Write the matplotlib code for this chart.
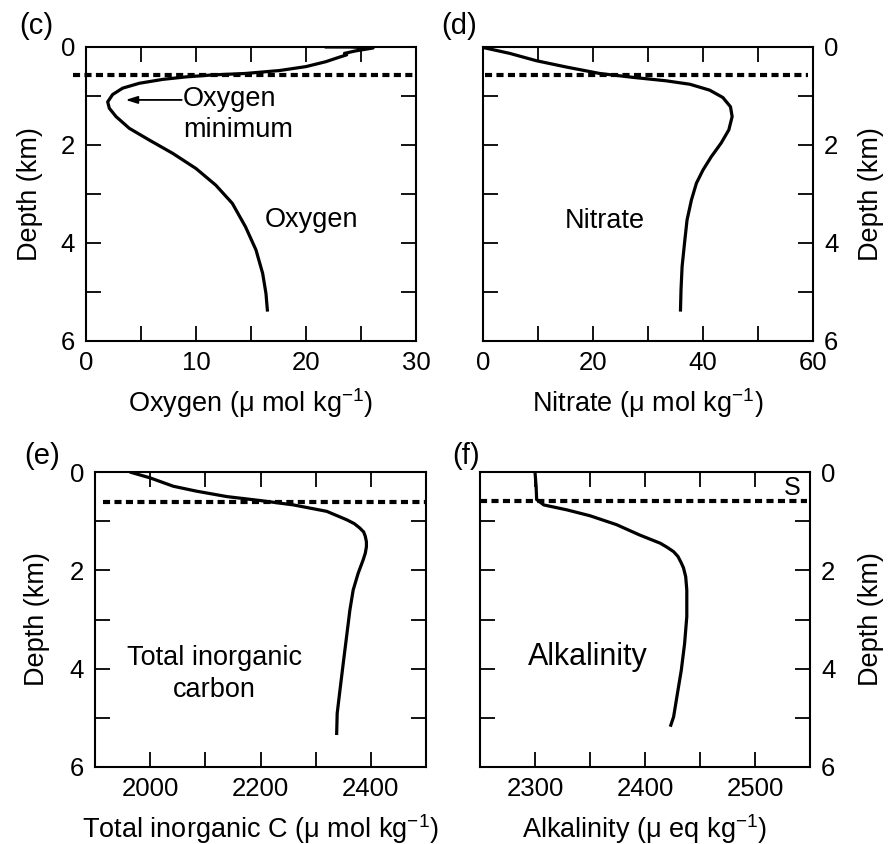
import matplotlib
matplotlib.use("Agg")
import matplotlib.pyplot as plt
from matplotlib.ticker import FixedLocator, FuncFormatter

plt.rcParams['font.family'] = ['Liberation Sans', 'DejaVu Sans']
plt.rcParams['mathtext.fontset'] = 'custom'
plt.rcParams['mathtext.rm'] = 'Liberation Sans'
plt.rcParams['mathtext.it'] = 'Liberation Sans:italic'
plt.rcParams['mathtext.default'] = 'rm'

# ---------------- data ----------------
oxy_depth = [0.00, 0.00, 0.02, 0.08, 0.13, 0.16, 0.21, 0.30, 0.40, 0.48, 0.54, 0.57,
             0.61, 0.66, 0.74, 0.84, 0.97, 1.12, 1.25, 1.42, 1.66, 1.90, 2.17, 2.48,
             2.82, 3.19, 3.67, 4.14, 4.62, 5.03, 5.40]
oxy_vals = [21.7, 24.0, 26.1, 24.5, 23.5, 23.7, 23.0, 21.8, 20.0, 17.6, 14.5, 11.5,
            9.1, 7.0, 4.85, 3.33, 2.42, 1.97, 2.12, 2.73, 3.94, 5.76, 7.88, 10.0,
            11.8, 13.3, 14.5, 15.45, 16.06, 16.36, 16.5]

nit_depth = [0.01, 0.13, 0.28, 0.41, 0.54, 0.62, 0.69, 0.76, 0.88, 1.03, 1.22, 1.42,
             1.69, 1.96, 2.24, 2.51, 2.78, 3.12, 3.53, 3.94, 4.48, 4.96, 5.40]
nit_vals = [0.0, 4.85, 9.7, 15.2, 21.2, 27.3, 33.3, 37.6, 41.2, 43.6, 45.0, 45.3,
            44.7, 43.3, 41.5, 40.0, 38.8, 37.9, 37.1, 36.7, 36.2, 36.0, 35.9]

tic_depth = [0.0, 0.12, 0.29, 0.39, 0.50, 0.58, 0.67, 0.80, 0.97, 1.05, 1.14, 1.22,
             1.31, 1.42, 1.52, 1.65, 1.79, 2.06, 2.40, 2.81, 3.35, 3.89, 4.44, 4.91, 5.35]
tic_vals = [1963, 2000, 2042, 2084, 2139, 2199, 2260, 2320, 2356, 2370, 2380, 2387,
            2390, 2392, 2392, 2390, 2386, 2377, 2368, 2362, 2356, 2350, 2344, 2339, 2338]

alk_depth = [0.0, 0.29, 0.56, 0.67, 0.77, 0.89, 1.07, 1.28, 1.45, 1.53, 1.62, 1.72,
             1.85, 1.95, 2.13, 2.40, 2.94, 3.49, 4.03, 4.57, 4.98, 5.18]
alk_vals = [2300, 2301, 2301.5, 2308, 2329, 2350, 2374, 2395, 2414, 2420, 2426, 2430,
            2433, 2435, 2437, 2438, 2438, 2436, 2433, 2429, 2426, 2423]

panel_letters = ['(c)', '(d)', '(e)', '(f)']
xlabels = [r'Oxygen (μ mol kg$^{-1}$)', r'Nitrate (μ mol kg$^{-1}$)',
           r'Total inorganic C (μ mol kg$^{-1}$)', r'Alkalinity (μ eq kg$^{-1}$)']
xlims = [(0, 30), (0, 60), (1900, 2500), (2250, 2550)]
xtick_pos = [[5, 10, 15, 20, 25], [10, 20, 30, 40, 50],
             [2000, 2100, 2200, 2300, 2400], [2300, 2350, 2400, 2450, 2500]]
xtick_lab = [[0, 10, 20, 30], [0, 20, 40, 60], [2000, 2200, 2400], [2300, 2400, 2500]]
ytick_lab = [0, 2, 4, 6]
mixed_depth = [0.57, 0.57, 0.60, 0.58]
dash_span = [(-0.04, 1.0), (0.006, 0.985), (0.024, 1.0), (0.0, 0.99)]

W, H = 894, 844
fig = plt.figure(figsize=(W / 100, H / 100), dpi=100)

rects_px = [(86, 47, 416, 341), (483, 47, 813, 341), (95, 472, 426, 767), (480, 472, 810, 767)]
letter_px = [(19, 12), (441, 12), (24, 442), (452, 442)]
series = [(oxy_vals, oxy_depth), (nit_vals, nit_depth), (tic_vals, tic_depth), (alk_vals, alk_depth)]
right_side = [False, True, False, True]
ylabel_x = [-0.130, 1.136, -0.136, 1.145]

TS = 18.5
LS = 19.5
axes = []
for i in range(4):
    l, t, r, b = rects_px[i]
    ax = fig.add_axes([l / W, 1 - b / H, (r - l) / W, (b - t) / H])
    axes.append(ax)
    xv, dv = series[i]
    ax.plot(xv, dv, color='black', lw=2.3, solid_capstyle='butt', solid_joinstyle='round')
    ax.set_xlim(*xlims[i])
    ax.set_ylim(6, 0)
    labs = xtick_lab[i]
    ax.xaxis.set_major_locator(FixedLocator(sorted(set(xtick_pos[i]) | set(labs))))
    ax.xaxis.set_major_formatter(FuncFormatter(lambda v, p, labs=labs: f"{int(round(v))}" if int(round(v)) in labs else ""))
    ax.yaxis.set_major_locator(FixedLocator([0, 1, 2, 3, 4, 5, 6]))
    ax.yaxis.set_major_formatter(FuncFormatter(lambda v, p: f"{int(round(v))}" if int(round(v)) in ytick_lab else ""))
    ax.tick_params(axis='both', which='major', direction='in', length=11, width=1.3,
                   labelsize=TS, top=True, right=True, bottom=True, left=True)
    ax.tick_params(axis='x', pad=7)
    ax.tick_params(axis='y', pad=8)
    if right_side[i]:
        ax.tick_params(axis='y', labelleft=False, labelright=True)
        ax.yaxis.set_label_position('right')
    for s in ax.spines.values():
        s.set_linewidth(1.5)
    ax.set_ylabel('Depth (km)', fontsize=LS)
    ax.yaxis.set_label_coords(ylabel_x[i], 0.5)
    ax.set_xlabel(xlabels[i], fontsize=LS, labelpad=8)
    x0, x1 = dash_span[i]
    ax.plot([x0, x1], [mixed_depth[i], mixed_depth[i]], color='black', lw=3.0,
            linestyle=(0, (1.7, 1.05)), transform=ax.get_yaxis_transform(),
            clip_on=False, solid_capstyle='butt', dash_capstyle='butt')
    lx, ly = letter_px[i]
    fig.text(lx / W, 1 - ly / H, panel_letters[i], fontsize=21, ha='left', va='top')

ax_c, ax_d, ax_e, ax_f = axes
ax_c.text(8.8, 1.20, 'Oxygen', fontsize=LS, ha='left', va='baseline')
ax_c.text(8.8, 1.84, 'minimum', fontsize=LS, ha='left', va='baseline')
ax_c.annotate('', xy=(3.6, 1.08), xytext=(8.7, 1.08),
              arrowprops=dict(arrowstyle='-|>,head_length=0.7,head_width=0.22', color='black', lw=1.3,
                              shrinkA=0, shrinkB=0))
ax_c.text(20.5, 3.68, 'Oxygen', fontsize=LS, ha='center', va='baseline')
ax_d.text(22.2, 3.69, 'Nitrate', fontsize=LS, ha='center', va='baseline')
ax_e.text(2116, 3.92, 'Total inorganic', fontsize=LS, ha='center', va='baseline')
ax_e.text(2116, 4.57, 'carbon', fontsize=LS, ha='center', va='baseline')
ax_f.text(2348, 3.92, 'Alkalinity', fontsize=22, ha='center', va='baseline')
ax_f.text(2534, 0.47, 'S', fontsize=18, ha='center', va='baseline')

fig.savefig('out.png', dpi=100)
